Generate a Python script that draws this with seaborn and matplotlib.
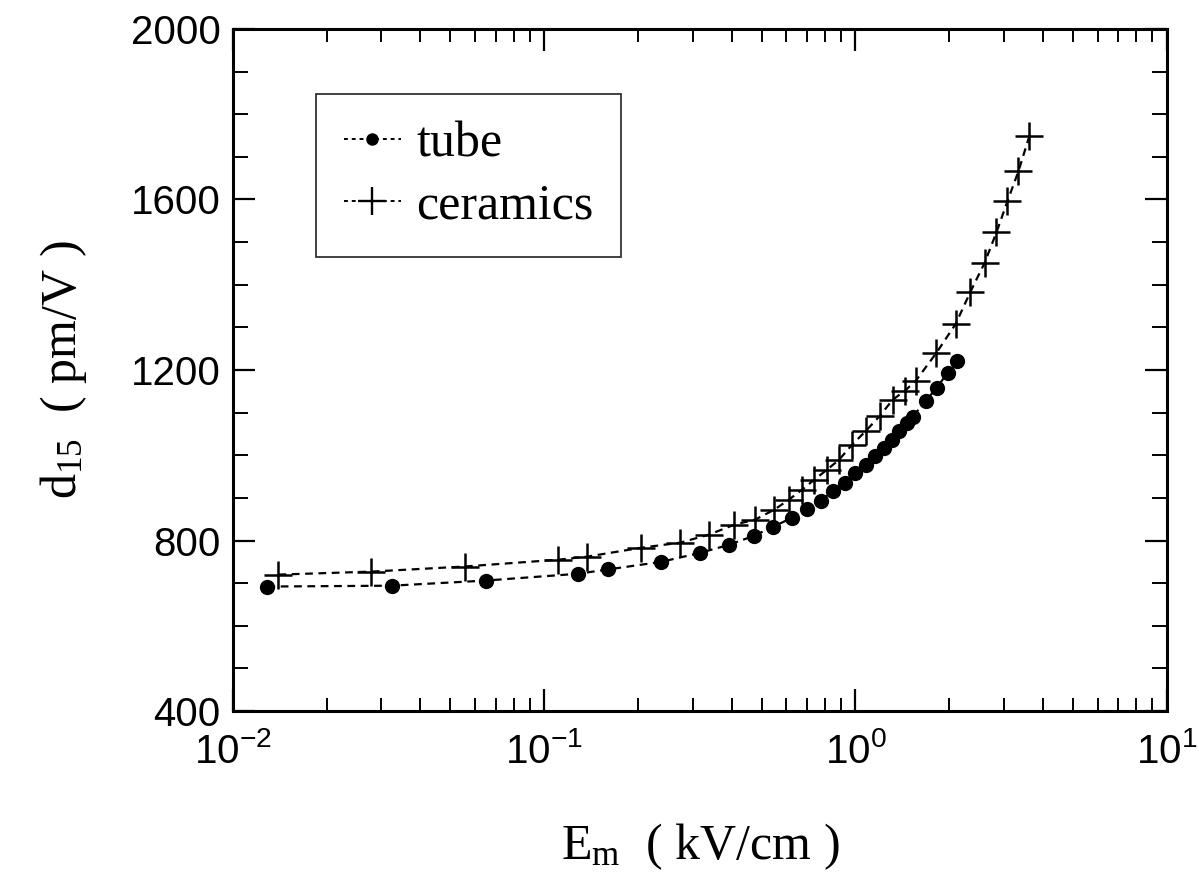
import numpy as np
import pandas as pd
import matplotlib
matplotlib.use("Agg")
import matplotlib.pyplot as plt
from matplotlib.ticker import LogLocator, MultipleLocator, FixedLocator, FuncFormatter
from matplotlib.lines import Line2D
import seaborn as sns

# ---- data ----
tube_x = [0.0129, 0.0324, 0.0648, 0.1285, 0.160, 0.238, 0.317, 0.393, 0.472,
          0.543, 0.625, 0.698, 0.774, 0.846, 0.925, 0.996, 1.08, 1.154, 1.233,
          1.308, 1.377, 1.461, 1.527, 1.681, 1.823, 1.977, 2.113]
tube_y = [692, 694, 706, 722, 732, 750, 771, 790, 811, 832, 853, 874, 893, 917,
          935, 959, 977, 998, 1017, 1036, 1057, 1076, 1090, 1127, 1158, 1193, 1221]

ceramics_x = [0.0140, 0.0278, 0.0555, 0.111, 0.137, 0.205, 0.274, 0.339, 0.408,
              0.476, 0.548, 0.612, 0.673, 0.736, 0.810, 0.885, 0.974, 1.080,
              1.197, 1.317, 1.44, 1.561, 1.82, 2.10, 2.34, 2.60, 2.84, 3.08,
              3.34, 3.62]
ceramics_y = [720, 727, 739, 755, 762, 783, 795, 814, 837, 849, 872, 896, 919,
              942, 966, 989, 1024, 1057, 1092, 1130, 1151, 1174, 1240, 1308,
              1383, 1451, 1523, 1596, 1666, 1748]

series_names = ["tube", "ceramics"]
x_label = r"$\mathregular{E_m}$  ( kV/cm )"
y_label = r"$\mathregular{d_{15}}$  ( pm/V )"
x_ticks = [1e-2, 1e-1, 1e0, 1e1]
x_ticklabels = [r"$\mathregular{10^{-2}}$", r"$\mathregular{10^{-1}}$",
                r"$\mathregular{10^{0}}$", r"$\mathregular{10^{1}}$"]
y_ticks = [400, 800, 1200, 1600, 2000]

df_tube = pd.DataFrame({"E": tube_x, "d15": tube_y})
df_cer = pd.DataFrame({"E": ceramics_x, "d15": ceramics_y})

sns.set_style("ticks")
plt.rcParams["font.family"] = ["Liberation Sans", "DejaVu Sans"]
plt.rcParams["text.color"] = "black"
plt.rcParams["axes.labelcolor"] = "black"

fig = plt.figure(figsize=(11.99, 8.91), dpi=100)
ax = fig.add_axes([0.1943, 0.202, 0.7787, 0.7655])

dash = (0, (3.5, 2.5))
sns.lineplot(data=df_tube, x="E", y="d15", ax=ax, estimator=None, sort=False,
             color="black", linestyle=dash, linewidth=1.6,
             marker="o", markersize=11, markeredgewidth=0,
             markerfacecolor="black", markeredgecolor="black")
sns.lineplot(data=df_cer, x="E", y="d15", ax=ax, estimator=None, sort=False,
             color="black", linestyle=dash, linewidth=1.6,
             marker="+", markersize=20, markeredgewidth=1.8,
             markeredgecolor="black", markerfacecolor="black")

ax.set_xscale("log")
ax.set_xlim(1e-2, 1e1)
ax.set_ylim(400, 2000)

ax.xaxis.set_major_locator(FixedLocator(x_ticks))
ax.set_xticklabels(x_ticklabels)
ax.xaxis.set_minor_locator(LogLocator(base=10, subs=np.arange(2, 10)))
ax.xaxis.set_minor_formatter(FuncFormatter(lambda v, p: ""))
ax.yaxis.set_major_locator(FixedLocator(y_ticks))
ax.set_yticklabels([str(t) for t in y_ticks])
ax.yaxis.set_minor_locator(MultipleLocator(100))

ax.tick_params(which="both", direction="in", top=True, right=True,
               color="black", labelcolor="black")
ax.tick_params(which="major", length=16, width=1.6, labelsize=29, pad=9)
ax.tick_params(axis="x", which="minor", length=9.5, width=1.4)
ax.tick_params(axis="y", which="minor", length=11, width=1.4)
ax.tick_params(axis="x", which="major", pad=15)

for s in ax.spines.values():
    s.set_linewidth(2.2)
    s.set_color("black")

serif = ["Liberation Serif", "DejaVu Serif"]
ax.set_xlabel(x_label, family=serif, fontsize=36, labelpad=36, color="black")
ax.set_ylabel(y_label, family=serif, fontsize=36, labelpad=30, color="black")

handles = [
    Line2D([], [], color="black", linestyle=(0, (2, 2)), linewidth=1.4,
           marker="o", markersize=9, markeredgewidth=0),
    Line2D([], [], color="black", linestyle=(0, (2, 2)), linewidth=1.4,
           marker="+", markersize=20, markeredgewidth=1.7),
]
leg = ax.legend(handles, series_names, loc="upper left",
                bbox_to_anchor=(0.089, 0.905), prop={"family": serif, "size": 36},
                frameon=True, fancybox=False, handlelength=1.15, handletextpad=0.3,
                borderpad=0.55, labelspacing=0.3, borderaxespad=0,
                labelcolor="black")
leg.get_frame().set_edgecolor("black")
leg.get_frame().set_linewidth(1.3)

fig.savefig("out.png", dpi=100, facecolor="white")
